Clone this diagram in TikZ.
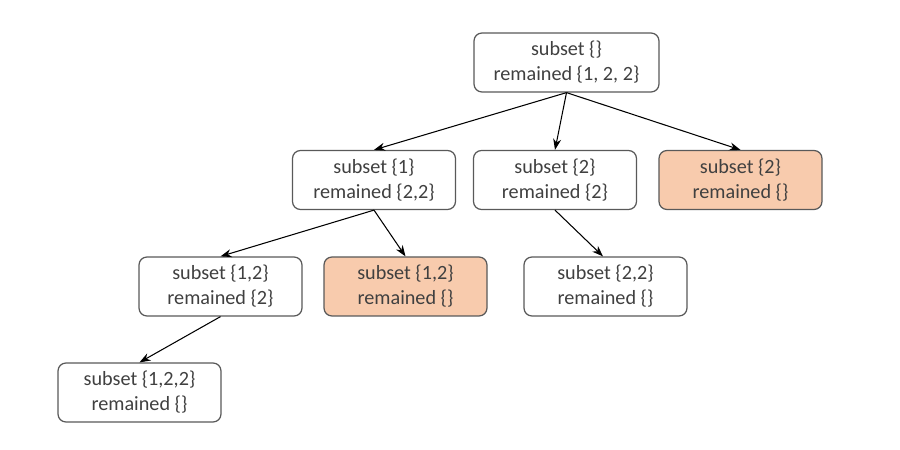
\documentclass[tikz,border=0pt]{standalone}
\usepackage{fontspec}
\setmainfont{Carlito}
\usetikzlibrary{arrows.meta}
\definecolor{boxline}{HTML}{595959}
\definecolor{boxtext}{HTML}{404040}
\definecolor{leaffill}{HTML}{F8CBAD}
\begin{document}
\begin{tikzpicture}[
    box/.style={draw=boxline, line width=0.7pt, rounded corners=0.16cm, fill=white,
        text=boxtext, align=center, minimum width=3.26cm, minimum height=1.18cm,
        inner sep=0pt, font=\fontsize{11.5}{14.2}\selectfont},
    leaf/.style={box, fill=leaffill},
    edge/.style={-{Stealth[length=2.2mm,width=1.6mm]}, line width=0.6pt, black}
]
            \useasboundingbox (0, 0) rectangle (18, 9);

            \node[box, minimum width=3.7cm] (root) at (11.33, 7.75) { subset \{\} \\ remained \{1, 2, 2\} };

            \node[box] (s1) at (7.48, 5.4) { subset \{1\} \\ remained \{2,2\} };
            \node[box] (s2) at (11.1, 5.4) { subset \{2\} \\ remained \{2\} };
            \node[leaf] (s2e) at (14.81, 5.4) { subset \{2\} \\ remained \{\} };

            \node[box] (s12) at (4.41, 3.27) { subset \{1,2\} \\ remained \{2\} };
            \node[leaf] (s12e) at (8.11, 3.27) { subset \{1,2\} \\ remained \{\} };
            \node[box] (s22) at (12.11, 3.27) { subset \{2,2\} \\ remained \{\} };

            \node[box] (s122) at (2.79, 1.15) { subset \{1,2,2\} \\ remained \{\} };

            \draw[edge] (root.south) -- (s1.north);
            \draw[edge] (root.south) -- (s2.north);
            \draw[edge] (root.south) -- (s2e.north);
            \draw[edge] (s1.south) -- (s12.north);
            \draw[edge] (s1.south) -- (s12e.north);
            \draw[edge] (s2.south) -- ([xshift=-0.05cm]s22.north);
            \draw[edge] (s12.south) -- (s122.north);
        \end{tikzpicture}
\end{document}
